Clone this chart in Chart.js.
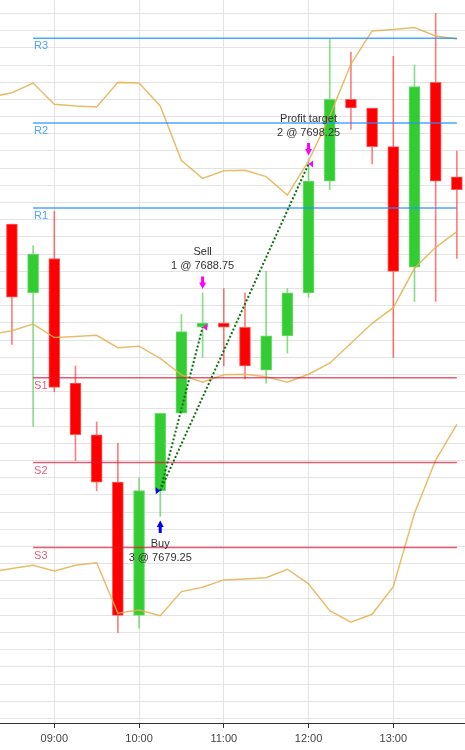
<!DOCTYPE html>
<html>
<head>
<meta charset="utf-8">
<script src="https://cdn.jsdelivr.net/npm/chart.js@4.4.1/dist/chart.umd.min.js"></script>
<style>
  html, body { margin: 0; padding: 0; background: #fff; }
  #wrap { width: 465px; height: 750px; }
</style>
</head>
<body>
<div id="wrap"><canvas id="chart"></canvas></div>
<script>
// 15 minute candles
const candleTimes = ['08:30', '08:45', '09:00', '09:15', '09:30', '09:45', '10:00', '10:15', '10:30', '10:45', '11:00',
  '11:15', '11:30', '11:45', '12:00', '12:15', '12:30', '12:45', '13:00', '13:15', '13:30', '13:45'];
const opens = [7694.75, 7690.75, 7692.75, 7685.5, 7682.5, 7679.75, 7672.0, 7679.25, 7683.75, 7688.75, 7689.0,
  7688.75, 7686.25, 7688.25, 7690.75, 7697.25, 7702.0, 7701.5, 7699.25, 7692.25, 7703.0, 7697.5];
const highs = [7694.75, 7693.5, 7695.5, 7686.5, 7683.25, 7682.0, 7680.0, 7683.75, 7689.5, 7690.75, 7691.0,
  7690.75, 7692.0, 7691.0, 7698.5, 7705.5, 7704.75, 7701.5, 7704.5, 7704.0, 7707.0, 7699.0];
const lows = [7687.75, 7683.0, 7685.0, 7681.0, 7679.25, 7671.0, 7671.25, 7677.75, 7683.75, 7687.0, 7686.5,
  7685.75, 7685.5, 7687.25, 7690.5, 7696.75, 7700.25, 7698.25, 7687.0, 7690.25, 7690.25, 7692.75];
const closes = [7690.5, 7693.0, 7685.25, 7682.5, 7679.75, 7672.0, 7679.25, 7683.75, 7688.5, 7689.0, 7688.75,
  7686.5, 7688.25, 7690.75, 7697.25, 7702.0, 7701.5, 7699.25, 7692.0, 7702.75, 7697.25, 7696.75];

// bands (one extra point before the first visible candle)
const bandTimes = ['08:15'].concat(candleTimes);
const upperBand = [7702.14, 7702.39, 7702.95, 7701.72, 7701.62, 7701.56, 7702.99, 7702.95, 7701.62, 7698.44, 7697.41,
  7697.85, 7697.88, 7697.51, 7696.44, 7698.42, 7701.03, 7704.06, 7705.98, 7706.06, 7706.18, 7705.69, 7705.51];
const middleBand = [7688.34, 7688.55, 7688.94, 7688.15, 7688.22, 7688.28, 7687.56, 7687.65, 7686.94, 7685.98, 7685.55,
  7685.99, 7686.02, 7685.88, 7685.55, 7686.02, 7686.66, 7687.82, 7688.98, 7689.89, 7692.18, 7693.40, 7694.31];
const lowerBand = [7674.51, 7674.72, 7674.91, 7674.58, 7674.91, 7675.06, 7672.12, 7672.31, 7671.98, 7673.38, 7673.63,
  7674.06, 7674.12, 7674.19, 7674.68, 7673.83, 7672.27, 7671.60, 7672.06, 7673.67, 7677.94, 7681.03, 7683.11];

// pivot levels
const pivotNames = ['R3', 'R2', 'R1', 'S1', 'S2', 'S3'];
const pivotValues = [7705.56, 7700.63, 7695.69, 7685.81, 7680.88, 7675.94];
const pivotFrom = '08:45';
const pivotTo = '13:45';

// trades
const tradeTimes = ['10:15', '10:45', '12:00'];
const tradePrices = [7679.25, 7688.75, 7698.25];
const tradeQty = [3, 1, 2];
const tradeNames = ['Buy', 'Sell', 'Profit target'];
const tradeSides = ['buy', 'sell', 'sell'];

const xTickTimes = ['09:00', '10:00', '11:00', '12:00', '13:00'];

function toMin(t) {
  const p = t.split(':');
  return +p[0] * 60 + +p[1];
}

const RED = '#ff0000', GREEN = '#33cc33';
const R_COLOR = 'rgba(30,144,255,0.8)', S_COLOR = 'rgba(220,20,60,0.7)';
const BAND = 'rgba(228,178,80,0.85)';

const up = candleTimes.map((t, i) => closes[i] >= opens[i]);

const pivotSets = pivotNames.map((n, i) => ({
  type: 'line',
  data: [{ x: toMin(pivotFrom), y: pivotValues[i] }, { x: toMin(pivotTo), y: pivotValues[i] }],
  borderColor: n[0] === 'R' ? R_COLOR : S_COLOR,
  borderWidth: 1.5,
  pointRadius: 0,
  order: 4
}));

const entry = tradeSides.indexOf('buy');
const tradeSets = [];
tradeTimes.forEach((t, i) => {
  if (i === entry) return;
  tradeSets.push({
    type: 'line',
    data: [{ x: toMin(tradeTimes[entry]), y: tradePrices[entry] }, { x: toMin(t), y: tradePrices[i] }],
    borderColor: '#0b700b',
    borderWidth: 2,
    borderDash: [2, 2],
    pointRadius: 0,
    order: 1
  });
});

function band(values) {
  return {
    type: 'line',
    data: bandTimes.map((t, i) => ({ x: toMin(t), y: values[i] })),
    borderColor: BAND,
    borderWidth: 1.5,
    pointRadius: 0,
    order: 5
  };
}

const overlay = {
  id: 'overlay',
  afterDatasetsDraw(chart) {
    const { ctx, scales: { x, y } } = chart;
    ctx.save();
    ctx.font = '11px "Liberation Sans", Arial, sans-serif';

    // pivot names under each line
    ctx.textAlign = 'left';
    ctx.textBaseline = 'middle';
    pivotNames.forEach((n, i) => {
      ctx.fillStyle = n[0] === 'R' ? R_COLOR : S_COLOR;
      ctx.fillText(n, x.getPixelForValue(toMin(pivotFrom)) + 1, y.getPixelForValue(pivotValues[i]) + 8);
    });

    // trade markers
    ctx.textAlign = 'center';
    tradeTimes.forEach((t, i) => {
      const k = candleTimes.indexOf(t);
      const px = x.getPixelForValue(toMin(t));
      const py = y.getPixelForValue(tradePrices[i]);
      const buy = tradeSides[i] === 'buy';
      const col = buy ? '#0000ff' : '#ff00ff';
      ctx.fillStyle = col;

      // fill triangle at price
      ctx.beginPath();
      if (buy) {
        ctx.moveTo(px - 4.5, py - 3.5); ctx.lineTo(px, py); ctx.lineTo(px - 4.5, py + 3.5);
      } else {
        ctx.moveTo(px + 4.5, py - 3.5); ctx.lineTo(px, py); ctx.lineTo(px + 4.5, py + 3.5);
      }
      ctx.closePath();
      ctx.fill();

      // arrow beyond the bar
      const dir = buy ? -1 : 1;
      const tip = buy ? y.getPixelForValue(lows[k]) + 4 : y.getPixelForValue(highs[k]) - 4;
      ctx.beginPath();
      ctx.moveTo(px, tip);
      ctx.lineTo(px - 3.5, tip - dir * 6.5);
      ctx.lineTo(px - 1.5, tip - dir * 6.5);
      ctx.lineTo(px - 1.5, tip - dir * 12.5);
      ctx.lineTo(px + 1.5, tip - dir * 12.5);
      ctx.lineTo(px + 1.5, tip - dir * 6.5);
      ctx.lineTo(px + 3.5, tip - dir * 6.5);
      ctx.closePath();
      ctx.fill();

      ctx.fillStyle = '#333';
      const line2 = tradeQty[i] + ' @ ' + tradePrices[i].toFixed(2);
      if (buy) {
        const b = tip + 12.5;
        ctx.fillText(tradeNames[i], px, b + 11);
        ctx.fillText(line2, px, b + 25);
      } else {
        const b = tip - 12.5;
        ctx.fillText(line2, px, b - 10.5);
        ctx.fillText(tradeNames[i], px, b - 24);
      }
    });
    ctx.restore();
  }
};

new Chart(document.getElementById('chart'), {
  type: 'bar',
  data: {
    datasets: [
      ...tradeSets,
      ...pivotSets,
      band(upperBand),
      band(middleBand),
      band(lowerBand),
      {
        type: 'bar',
        data: candleTimes.map((t, i) => ({ x: toMin(t), y: [opens[i], closes[i]] })),
        backgroundColor: up.map(u => u ? GREEN : RED),
        borderColor: up.map(u => u ? 'rgba(110,220,110,1)' : 'rgba(255,90,90,1)'),
        borderWidth: 1,
        borderSkipped: false,
        barThickness: 11,
        grouped: false,
        order: 9
      },
      {
        type: 'bar',
        data: candleTimes.map((t, i) => ({ x: toMin(t), y: [lows[i], highs[i]] })),
        backgroundColor: up.map(u => u ? 'rgba(60,200,60,0.6)' : 'rgba(255,0,0,0.5)'),
        borderWidth: 0,
        barThickness: 1,
        grouped: false,
        order: 10
      }
    ]
  },
  options: {
    responsive: true,
    maintainAspectRatio: false,
    animation: false,
    events: [],
    layout: { padding: 0 },
    plugins: { legend: { display: false }, tooltip: { enabled: false } },
    scales: {
      x: {
        type: 'linear',
        offset: false,
        min: 501.56,
        max: 830.76,
        afterBuildTicks: s => { s.ticks = xTickTimes.map(t => ({ value: toMin(t) })); },
        afterFit: s => { s.height = 27; },
        grid: { offset: false, color: '#e3e3e3', tickColor: '#333', tickLength: 5 },
        border: { color: '#333', width: 1 },
        ticks: {
          padding: 4,
          color: '#444',
          font: { family: '"Liberation Sans", Arial, sans-serif', size: 11 },
          callback: v => xTickTimes[xTickTimes.map(toMin).indexOf(v)]
        }
      },
      y: {
        min: 7665.74,
        max: 7707.78,
        beginAtZero: false,
        afterFit: s => { s.width = 0; },
        grid: { color: '#e3e3e3', drawTicks: false },
        border: { display: false },
        ticks: { display: false, stepSize: 1, maxTicksLimit: 100, includeBounds: false }
      }
    }
  },
  plugins: [overlay]
});
</script>
</body>
</html>
